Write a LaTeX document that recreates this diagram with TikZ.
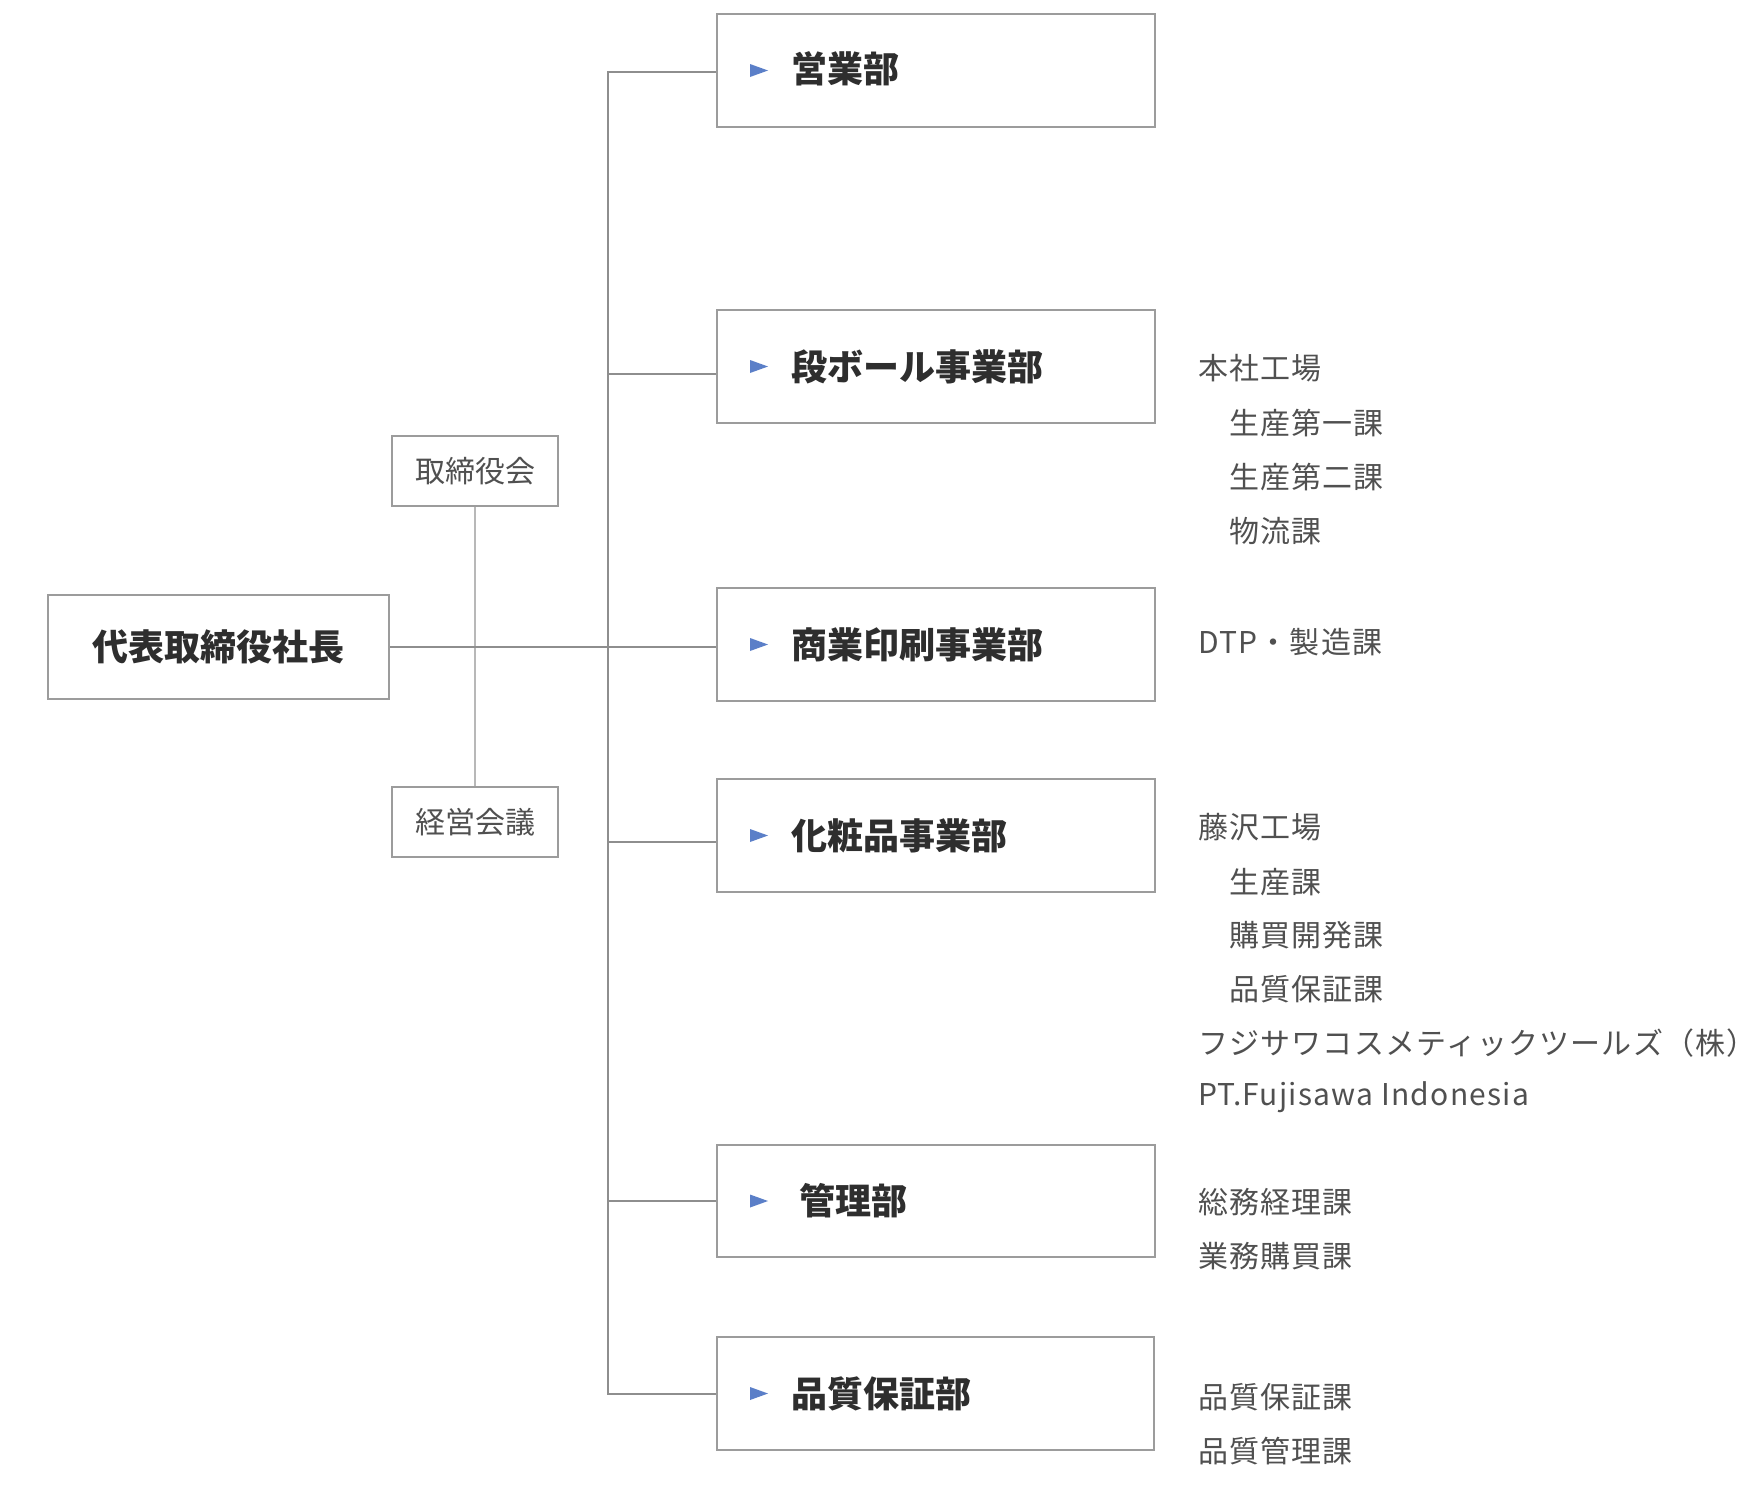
\documentclass[tikz,border=0pt]{standalone}
\usepackage{fontspec}
\setmainfont{Noto Sans CJK JP}
\newfontfamily\subfont[LetterSpace=4]{Noto Sans CJK JP}
\definecolor{boxgray}{HTML}{9C9C9C}
\definecolor{linegray}{HTML}{8E8E8E}
\definecolor{lightgray}{HTML}{B8B8B8}
\definecolor{darktext}{HTML}{2E2E2E}
\definecolor{subtext}{HTML}{505050}
\definecolor{arrowblue}{HTML}{5B7FC8}
\newcommand\depttri[1]{\fill[arrowblue] ([xshift=34pt,yshift=6.5pt]#1.west) -- ([xshift=52pt]#1.west) -- ([xshift=34pt,yshift=-6.5pt]#1.west) -- cycle;}
\begin{document}
\begin{tikzpicture}[x=1pt,y=-1pt,
  deptbox/.style={draw=boxgray, line width=2pt, fill=white, rectangle, minimum width=438pt, minimum height=113pt, inner sep=0pt, anchor=north west},
  presbox/.style={draw=boxgray, line width=2pt, fill=white, rectangle, minimum width=341pt, minimum height=104pt, inner sep=0pt, anchor=north west, font=\fontsize{36}{40}\selectfont\bfseries, text=darktext},
  combox/.style={draw=boxgray, line width=2pt, fill=white, rectangle, minimum width=166pt, minimum height=70pt, inner sep=0pt, anchor=north west, font=\fontsize{30}{34}\selectfont, text=subtext},
  depttext/.style={anchor=west, inner sep=0pt, font=\fontsize{36}{40}\selectfont\bfseries, text=darktext},
  subitem/.style={anchor=west, inner sep=0pt, font=\subfont\fontsize{30}{34}\selectfont, text=subtext},
  conn/.style={draw=linegray, line width=2pt},
  lightconn/.style={draw=lightgray, line width=2pt}]
\useasboundingbox (0,0) rectangle (1760,1502);

\coordinate (tx) at (608,0);

% committees
\node[combox] (tori) at (391,435) {取締役会};
\node[combox] (keiei) at (391,786) {経営会議};
\draw[lightconn] (tori.south) -- (keiei.north);

% president
\node[presbox] (pres) at (47,594) {代表取締役社長};

% departments
\node[deptbox] (b1) at (716,13) {};
\node[deptbox] (b2) at (716,309) {};
\node[deptbox] (b3) at (716,587) {};
\node[deptbox] (b4) at (716,778) {};
\node[deptbox, minimum height=112pt] (b5) at (716,1144) {};
\node[deptbox, minimum width=437pt] (b6) at (716,1336) {};

% connectors
\draw[conn] (pres.east) -- (pres.east -| b3.west);
\draw[conn] ([yshift=-1.5pt]b1.west) -- ([yshift=-1.5pt]b1.west -| tx) -- (b6.west -| tx) -- (b6.west);
\draw[conn] ([yshift=-7pt]b2.west) -- ([yshift=-7pt]b2.west -| tx);
\draw[conn] ([yshift=-6pt]b4.west) -- ([yshift=-6pt]b4.west -| tx);
\draw[conn] (b5.west) -- (b5.west -| tx);

% dept labels
\depttri{b1}\depttri{b2}\depttri{b3}\depttri{b4}\depttri{b5}\depttri{b6}
\node[depttext] (t1) at ([xshift=75pt,yshift=2pt]b1.west) {営業部};
\node[depttext] (t2) at ([xshift=75pt]b2.west) {段ボール事業部};
\node[depttext] (t3) at ([xshift=75pt]b3.west) {商業印刷事業部};
\node[depttext] (t4) at ([xshift=75pt]b4.west) {化粧品事業部};
\node[depttext] (t5) at ([xshift=83pt]b5.west) {管理部};
\node[depttext] (t6) at ([xshift=75pt]b6.west) {品質保証部};

% sub items
\node[subitem] (s1) at (1198,368) {本社工場};
\node[subitem] (s2) at (1229,423) {生産第一課};
\node[subitem] (s3) at (1229,477) {生産第二課};
\node[subitem] (s4) at (1229,531) {物流課};
\node[subitem] (s5) at (1198,642) {DTP・製造課};
\node[subitem] (s6) at (1198,827) {藤沢工場};
\node[subitem] (s7) at (1229,882) {生産課};
\node[subitem] (s8) at (1229,935) {購買開発課};
\node[subitem] (s9) at (1229,989) {品質保証課};
\node[subitem] (s10) at (1198,1043) {フジサワコスメティックツールズ（株）};
\node[subitem] (s11) at (1198,1097) {PT.Fujisawa Indonesia};
\node[subitem] (s12) at (1198,1202) {総務経理課};
\node[subitem] (s13) at (1198,1256) {業務購買課};
\node[subitem] (s14) at (1198,1397) {品質保証課};
\node[subitem] (s15) at (1198,1451) {品質管理課};
\end{tikzpicture}
\end{document}
